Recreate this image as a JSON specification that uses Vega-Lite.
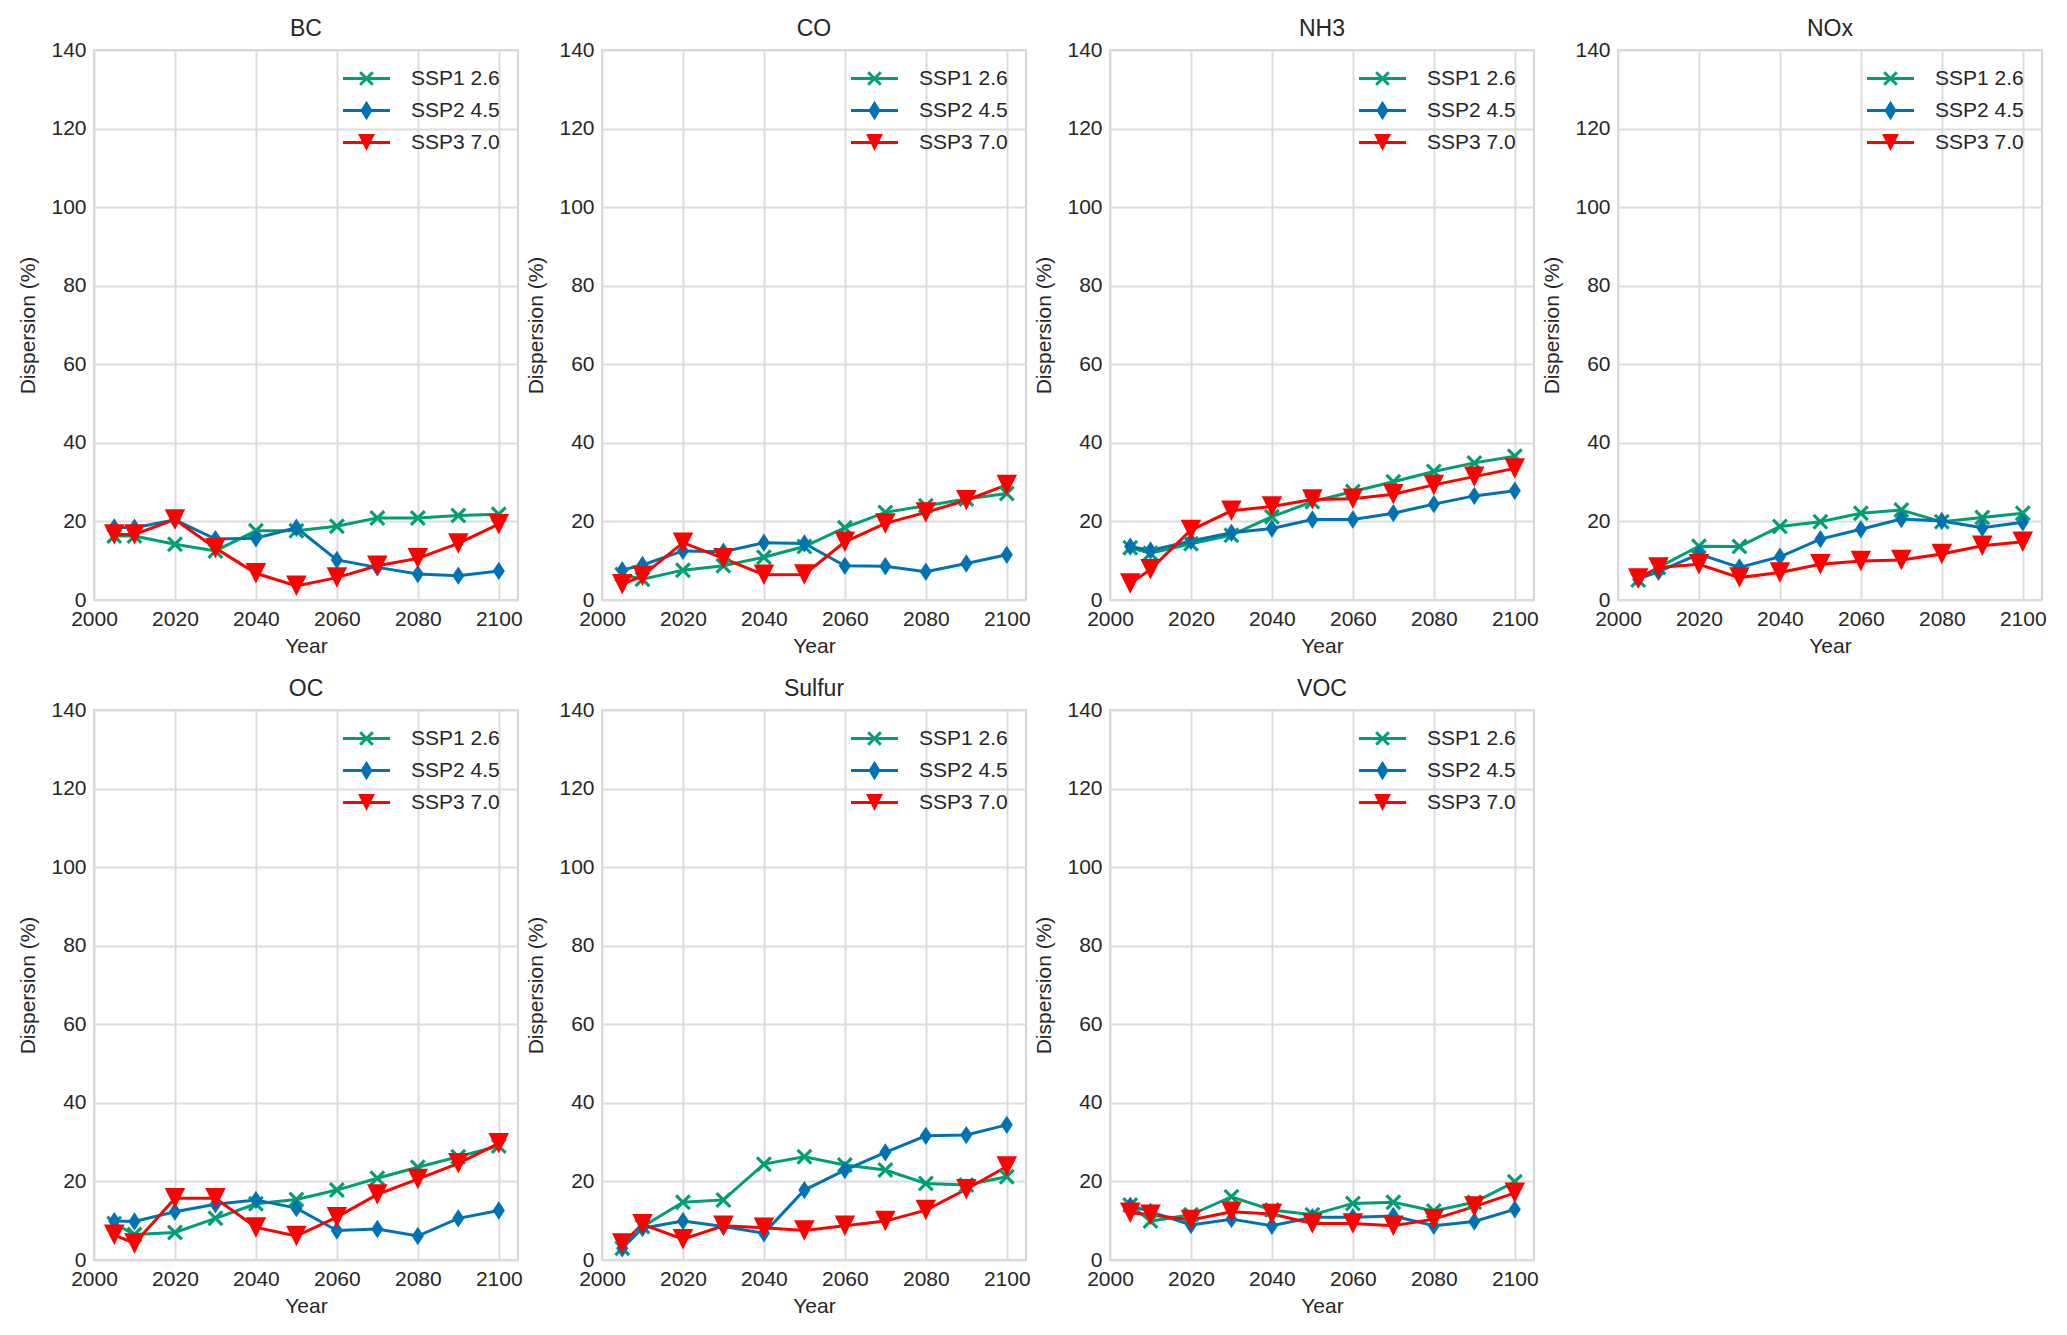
{
"$schema": "https://vega.github.io/schema/vega-lite/v6.json",
"background": "white",
"padding": {"left": 16, "top": 17, "right": 10, "bottom": 10},
"data": {"values": [
{"species":"BC","year":2005,"scenario":"SSP1 2.6","value":16.3},{"species":"BC","year":2010,"scenario":"SSP1 2.6","value":16.3},{"species":"BC","year":2020,"scenario":"SSP1 2.6","value":14.2},{"species":"BC","year":2030,"scenario":"SSP1 2.6","value":12.5},{"species":"BC","year":2040,"scenario":"SSP1 2.6","value":17.6},{"species":"BC","year":2050,"scenario":"SSP1 2.6","value":17.6},{"species":"BC","year":2060,"scenario":"SSP1 2.6","value":18.8},{"species":"BC","year":2070,"scenario":"SSP1 2.6","value":20.9},{"species":"BC","year":2080,"scenario":"SSP1 2.6","value":20.9},{"species":"BC","year":2090,"scenario":"SSP1 2.6","value":21.5},{"species":"BC","year":2100,"scenario":"SSP1 2.6","value":21.8},
{"species":"BC","year":2005,"scenario":"SSP2 4.5","value":18.5},{"species":"BC","year":2010,"scenario":"SSP2 4.5","value":18.4},{"species":"BC","year":2020,"scenario":"SSP2 4.5","value":20.4},{"species":"BC","year":2030,"scenario":"SSP2 4.5","value":15.5},{"species":"BC","year":2040,"scenario":"SSP2 4.5","value":15.7},{"species":"BC","year":2050,"scenario":"SSP2 4.5","value":18.4},{"species":"BC","year":2060,"scenario":"SSP2 4.5","value":10.2},{"species":"BC","year":2070,"scenario":"SSP2 4.5","value":8.3},{"species":"BC","year":2080,"scenario":"SSP2 4.5","value":6.6},{"species":"BC","year":2090,"scenario":"SSP2 4.5","value":6.2},{"species":"BC","year":2100,"scenario":"SSP2 4.5","value":7.4},
{"species":"BC","year":2005,"scenario":"SSP3 7.0","value":16.7},{"species":"BC","year":2010,"scenario":"SSP3 7.0","value":16.7},{"species":"BC","year":2020,"scenario":"SSP3 7.0","value":20.5},{"species":"BC","year":2030,"scenario":"SSP3 7.0","value":13.2},{"species":"BC","year":2040,"scenario":"SSP3 7.0","value":6.8},{"species":"BC","year":2050,"scenario":"SSP3 7.0","value":3.6},{"species":"BC","year":2060,"scenario":"SSP3 7.0","value":5.7},{"species":"BC","year":2070,"scenario":"SSP3 7.0","value":8.7},{"species":"BC","year":2080,"scenario":"SSP3 7.0","value":10.6},{"species":"BC","year":2090,"scenario":"SSP3 7.0","value":14.4},{"species":"BC","year":2100,"scenario":"SSP3 7.0","value":19.3},
{"species":"CO","year":2005,"scenario":"SSP1 2.6","value":6.5},{"species":"CO","year":2010,"scenario":"SSP1 2.6","value":5.3},{"species":"CO","year":2020,"scenario":"SSP1 2.6","value":7.6},{"species":"CO","year":2030,"scenario":"SSP1 2.6","value":8.7},{"species":"CO","year":2040,"scenario":"SSP1 2.6","value":10.9},{"species":"CO","year":2050,"scenario":"SSP1 2.6","value":13.6},{"species":"CO","year":2060,"scenario":"SSP1 2.6","value":18.4},{"species":"CO","year":2070,"scenario":"SSP1 2.6","value":22.3},{"species":"CO","year":2080,"scenario":"SSP1 2.6","value":24.0},{"species":"CO","year":2090,"scenario":"SSP1 2.6","value":25.7},{"species":"CO","year":2100,"scenario":"SSP1 2.6","value":27.1},
{"species":"CO","year":2005,"scenario":"SSP2 4.5","value":7.6},{"species":"CO","year":2010,"scenario":"SSP2 4.5","value":8.9},{"species":"CO","year":2020,"scenario":"SSP2 4.5","value":12.5},{"species":"CO","year":2030,"scenario":"SSP2 4.5","value":12.3},{"species":"CO","year":2040,"scenario":"SSP2 4.5","value":14.6},{"species":"CO","year":2050,"scenario":"SSP2 4.5","value":14.4},{"species":"CO","year":2060,"scenario":"SSP2 4.5","value":8.7},{"species":"CO","year":2070,"scenario":"SSP2 4.5","value":8.6},{"species":"CO","year":2080,"scenario":"SSP2 4.5","value":7.2},{"species":"CO","year":2090,"scenario":"SSP2 4.5","value":9.3},{"species":"CO","year":2100,"scenario":"SSP2 4.5","value":11.5},
{"species":"CO","year":2005,"scenario":"SSP3 7.0","value":4.0},{"species":"CO","year":2010,"scenario":"SSP3 7.0","value":6.2},{"species":"CO","year":2020,"scenario":"SSP3 7.0","value":14.6},{"species":"CO","year":2030,"scenario":"SSP3 7.0","value":10.6},{"species":"CO","year":2040,"scenario":"SSP3 7.0","value":6.4},{"species":"CO","year":2050,"scenario":"SSP3 7.0","value":6.5},{"species":"CO","year":2060,"scenario":"SSP3 7.0","value":14.8},{"species":"CO","year":2070,"scenario":"SSP3 7.0","value":19.5},{"species":"CO","year":2080,"scenario":"SSP3 7.0","value":22.3},{"species":"CO","year":2090,"scenario":"SSP3 7.0","value":25.4},{"species":"CO","year":2100,"scenario":"SSP3 7.0","value":29.3},
{"species":"NH3","year":2005,"scenario":"SSP1 2.6","value":13.3},{"species":"NH3","year":2010,"scenario":"SSP1 2.6","value":11.9},{"species":"NH3","year":2020,"scenario":"SSP1 2.6","value":14.3},{"species":"NH3","year":2030,"scenario":"SSP1 2.6","value":16.5},{"species":"NH3","year":2040,"scenario":"SSP1 2.6","value":21.2},{"species":"NH3","year":2050,"scenario":"SSP1 2.6","value":25.0},{"species":"NH3","year":2060,"scenario":"SSP1 2.6","value":27.6},{"species":"NH3","year":2070,"scenario":"SSP1 2.6","value":30.1},{"species":"NH3","year":2080,"scenario":"SSP1 2.6","value":32.7},{"species":"NH3","year":2090,"scenario":"SSP1 2.6","value":34.9},{"species":"NH3","year":2100,"scenario":"SSP1 2.6","value":36.6},
{"species":"NH3","year":2005,"scenario":"SSP2 4.5","value":13.6},{"species":"NH3","year":2010,"scenario":"SSP2 4.5","value":12.6},{"species":"NH3","year":2020,"scenario":"SSP2 4.5","value":15.0},{"species":"NH3","year":2030,"scenario":"SSP2 4.5","value":17.1},{"species":"NH3","year":2040,"scenario":"SSP2 4.5","value":18.2},{"species":"NH3","year":2050,"scenario":"SSP2 4.5","value":20.5},{"species":"NH3","year":2060,"scenario":"SSP2 4.5","value":20.5},{"species":"NH3","year":2070,"scenario":"SSP2 4.5","value":22.1},{"species":"NH3","year":2080,"scenario":"SSP2 4.5","value":24.4},{"species":"NH3","year":2090,"scenario":"SSP2 4.5","value":26.5},{"species":"NH3","year":2100,"scenario":"SSP2 4.5","value":27.8},
{"species":"NH3","year":2005,"scenario":"SSP3 7.0","value":4.2},{"species":"NH3","year":2010,"scenario":"SSP3 7.0","value":7.8},{"species":"NH3","year":2020,"scenario":"SSP3 7.0","value":17.8},{"species":"NH3","year":2030,"scenario":"SSP3 7.0","value":22.7},{"species":"NH3","year":2040,"scenario":"SSP3 7.0","value":23.8},{"species":"NH3","year":2050,"scenario":"SSP3 7.0","value":25.6},{"species":"NH3","year":2060,"scenario":"SSP3 7.0","value":25.8},{"species":"NH3","year":2070,"scenario":"SSP3 7.0","value":26.9},{"species":"NH3","year":2080,"scenario":"SSP3 7.0","value":29.3},{"species":"NH3","year":2090,"scenario":"SSP3 7.0","value":31.4},{"species":"NH3","year":2100,"scenario":"SSP3 7.0","value":33.5},
{"species":"NOx","year":2005,"scenario":"SSP1 2.6","value":5.1},{"species":"NOx","year":2010,"scenario":"SSP1 2.6","value":8.3},{"species":"NOx","year":2020,"scenario":"SSP1 2.6","value":13.7},{"species":"NOx","year":2030,"scenario":"SSP1 2.6","value":13.6},{"species":"NOx","year":2040,"scenario":"SSP1 2.6","value":18.7},{"species":"NOx","year":2050,"scenario":"SSP1 2.6","value":19.9},{"species":"NOx","year":2060,"scenario":"SSP1 2.6","value":22.1},{"species":"NOx","year":2070,"scenario":"SSP1 2.6","value":22.9},{"species":"NOx","year":2080,"scenario":"SSP1 2.6","value":19.9},{"species":"NOx","year":2090,"scenario":"SSP1 2.6","value":21.0},{"species":"NOx","year":2100,"scenario":"SSP1 2.6","value":22.1},
{"species":"NOx","year":2005,"scenario":"SSP2 4.5","value":5.3},{"species":"NOx","year":2010,"scenario":"SSP2 4.5","value":7.2},{"species":"NOx","year":2020,"scenario":"SSP2 4.5","value":11.7},{"species":"NOx","year":2030,"scenario":"SSP2 4.5","value":8.3},{"species":"NOx","year":2040,"scenario":"SSP2 4.5","value":11.0},{"species":"NOx","year":2050,"scenario":"SSP2 4.5","value":15.5},{"species":"NOx","year":2060,"scenario":"SSP2 4.5","value":18.0},{"species":"NOx","year":2070,"scenario":"SSP2 4.5","value":20.6},{"species":"NOx","year":2080,"scenario":"SSP2 4.5","value":20.1},{"species":"NOx","year":2090,"scenario":"SSP2 4.5","value":18.4},{"species":"NOx","year":2100,"scenario":"SSP2 4.5","value":19.8},
{"species":"NOx","year":2005,"scenario":"SSP3 7.0","value":5.5},{"species":"NOx","year":2010,"scenario":"SSP3 7.0","value":8.3},{"species":"NOx","year":2020,"scenario":"SSP3 7.0","value":9.1},{"species":"NOx","year":2030,"scenario":"SSP3 7.0","value":5.7},{"species":"NOx","year":2040,"scenario":"SSP3 7.0","value":7.0},{"species":"NOx","year":2050,"scenario":"SSP3 7.0","value":9.1},{"species":"NOx","year":2060,"scenario":"SSP3 7.0","value":9.9},{"species":"NOx","year":2070,"scenario":"SSP3 7.0","value":10.2},{"species":"NOx","year":2080,"scenario":"SSP3 7.0","value":11.7},{"species":"NOx","year":2090,"scenario":"SSP3 7.0","value":13.8},{"species":"NOx","year":2100,"scenario":"SSP3 7.0","value":14.8},
{"species":"OC","year":2005,"scenario":"SSP1 2.6","value":9.3},{"species":"OC","year":2010,"scenario":"SSP1 2.6","value":6.5},{"species":"OC","year":2020,"scenario":"SSP1 2.6","value":7.0},{"species":"OC","year":2030,"scenario":"SSP1 2.6","value":10.6},{"species":"OC","year":2040,"scenario":"SSP1 2.6","value":14.3},{"species":"OC","year":2050,"scenario":"SSP1 2.6","value":15.4},{"species":"OC","year":2060,"scenario":"SSP1 2.6","value":17.8},{"species":"OC","year":2070,"scenario":"SSP1 2.6","value":20.8},{"species":"OC","year":2080,"scenario":"SSP1 2.6","value":23.6},{"species":"OC","year":2090,"scenario":"SSP1 2.6","value":26.3},{"species":"OC","year":2100,"scenario":"SSP1 2.6","value":29.0},
{"species":"OC","year":2005,"scenario":"SSP2 4.5","value":9.9},{"species":"OC","year":2010,"scenario":"SSP2 4.5","value":9.8},{"species":"OC","year":2020,"scenario":"SSP2 4.5","value":12.3},{"species":"OC","year":2030,"scenario":"SSP2 4.5","value":14.2},{"species":"OC","year":2040,"scenario":"SSP2 4.5","value":15.3},{"species":"OC","year":2050,"scenario":"SSP2 4.5","value":13.2},{"species":"OC","year":2060,"scenario":"SSP2 4.5","value":7.5},{"species":"OC","year":2070,"scenario":"SSP2 4.5","value":7.9},{"species":"OC","year":2080,"scenario":"SSP2 4.5","value":6.1},{"species":"OC","year":2090,"scenario":"SSP2 4.5","value":10.6},{"species":"OC","year":2100,"scenario":"SSP2 4.5","value":12.6},
{"species":"OC","year":2005,"scenario":"SSP3 7.0","value":6.4},{"species":"OC","year":2010,"scenario":"SSP3 7.0","value":4.2},{"species":"OC","year":2020,"scenario":"SSP3 7.0","value":15.7},{"species":"OC","year":2030,"scenario":"SSP3 7.0","value":15.7},{"species":"OC","year":2040,"scenario":"SSP3 7.0","value":8.3},{"species":"OC","year":2050,"scenario":"SSP3 7.0","value":6.1},{"species":"OC","year":2060,"scenario":"SSP3 7.0","value":10.9},{"species":"OC","year":2070,"scenario":"SSP3 7.0","value":16.7},{"species":"OC","year":2080,"scenario":"SSP3 7.0","value":20.6},{"species":"OC","year":2090,"scenario":"SSP3 7.0","value":24.6},{"species":"OC","year":2100,"scenario":"SSP3 7.0","value":29.7},
{"species":"Sulfur","year":2005,"scenario":"SSP1 2.6","value":3.0},{"species":"Sulfur","year":2010,"scenario":"SSP1 2.6","value":8.5},{"species":"Sulfur","year":2020,"scenario":"SSP1 2.6","value":14.7},{"species":"Sulfur","year":2030,"scenario":"SSP1 2.6","value":15.3},{"species":"Sulfur","year":2040,"scenario":"SSP1 2.6","value":24.4},{"species":"Sulfur","year":2050,"scenario":"SSP1 2.6","value":26.3},{"species":"Sulfur","year":2060,"scenario":"SSP1 2.6","value":24.2},{"species":"Sulfur","year":2070,"scenario":"SSP1 2.6","value":22.9},{"species":"Sulfur","year":2080,"scenario":"SSP1 2.6","value":19.5},{"species":"Sulfur","year":2090,"scenario":"SSP1 2.6","value":19.1},{"species":"Sulfur","year":2100,"scenario":"SSP1 2.6","value":21.2},
{"species":"Sulfur","year":2005,"scenario":"SSP2 4.5","value":3.0},{"species":"Sulfur","year":2010,"scenario":"SSP2 4.5","value":8.1},{"species":"Sulfur","year":2020,"scenario":"SSP2 4.5","value":9.9},{"species":"Sulfur","year":2030,"scenario":"SSP2 4.5","value":8.5},{"species":"Sulfur","year":2040,"scenario":"SSP2 4.5","value":6.8},{"species":"Sulfur","year":2050,"scenario":"SSP2 4.5","value":17.8},{"species":"Sulfur","year":2060,"scenario":"SSP2 4.5","value":22.9},{"species":"Sulfur","year":2070,"scenario":"SSP2 4.5","value":27.4},{"species":"Sulfur","year":2080,"scenario":"SSP2 4.5","value":31.6},{"species":"Sulfur","year":2090,"scenario":"SSP2 4.5","value":31.8},{"species":"Sulfur","year":2100,"scenario":"SSP2 4.5","value":34.4},
{"species":"Sulfur","year":2005,"scenario":"SSP3 7.0","value":4.2},{"species":"Sulfur","year":2010,"scenario":"SSP3 7.0","value":9.1},{"species":"Sulfur","year":2020,"scenario":"SSP3 7.0","value":5.3},{"species":"Sulfur","year":2030,"scenario":"SSP3 7.0","value":8.7},{"species":"Sulfur","year":2040,"scenario":"SSP3 7.0","value":8.2},{"species":"Sulfur","year":2050,"scenario":"SSP3 7.0","value":7.5},{"species":"Sulfur","year":2060,"scenario":"SSP3 7.0","value":8.7},{"species":"Sulfur","year":2070,"scenario":"SSP3 7.0","value":9.9},{"species":"Sulfur","year":2080,"scenario":"SSP3 7.0","value":12.7},{"species":"Sulfur","year":2090,"scenario":"SSP3 7.0","value":18.0},{"species":"Sulfur","year":2100,"scenario":"SSP3 7.0","value":23.8},
{"species":"VOC","year":2005,"scenario":"SSP1 2.6","value":14.0},{"species":"VOC","year":2010,"scenario":"SSP1 2.6","value":9.9},{"species":"VOC","year":2020,"scenario":"SSP1 2.6","value":11.5},{"species":"VOC","year":2030,"scenario":"SSP1 2.6","value":16.1},{"species":"VOC","year":2040,"scenario":"SSP1 2.6","value":12.7},{"species":"VOC","year":2050,"scenario":"SSP1 2.6","value":11.5},{"species":"VOC","year":2060,"scenario":"SSP1 2.6","value":14.4},{"species":"VOC","year":2070,"scenario":"SSP1 2.6","value":14.7},{"species":"VOC","year":2080,"scenario":"SSP1 2.6","value":12.5},{"species":"VOC","year":2090,"scenario":"SSP1 2.6","value":14.7},{"species":"VOC","year":2100,"scenario":"SSP1 2.6","value":19.9},
{"species":"VOC","year":2005,"scenario":"SSP2 4.5","value":13.8},{"species":"VOC","year":2010,"scenario":"SSP2 4.5","value":12.3},{"species":"VOC","year":2020,"scenario":"SSP2 4.5","value":8.9},{"species":"VOC","year":2030,"scenario":"SSP2 4.5","value":10.4},{"species":"VOC","year":2040,"scenario":"SSP2 4.5","value":8.7},{"species":"VOC","year":2050,"scenario":"SSP2 4.5","value":10.9},{"species":"VOC","year":2060,"scenario":"SSP2 4.5","value":10.9},{"species":"VOC","year":2070,"scenario":"SSP2 4.5","value":11.2},{"species":"VOC","year":2080,"scenario":"SSP2 4.5","value":8.7},{"species":"VOC","year":2090,"scenario":"SSP2 4.5","value":9.8},{"species":"VOC","year":2100,"scenario":"SSP2 4.5","value":12.9},
{"species":"VOC","year":2005,"scenario":"SSP3 7.0","value":12.0},{"species":"VOC","year":2010,"scenario":"SSP3 7.0","value":11.5},{"species":"VOC","year":2020,"scenario":"SSP3 7.0","value":10.2},{"species":"VOC","year":2030,"scenario":"SSP3 7.0","value":12.3},{"species":"VOC","year":2040,"scenario":"SSP3 7.0","value":11.7},{"species":"VOC","year":2050,"scenario":"SSP3 7.0","value":9.3},{"species":"VOC","year":2060,"scenario":"SSP3 7.0","value":9.3},{"species":"VOC","year":2070,"scenario":"SSP3 7.0","value":8.7},{"species":"VOC","year":2080,"scenario":"SSP3 7.0","value":10.4},{"species":"VOC","year":2090,"scenario":"SSP3 7.0","value":13.6},{"species":"VOC","year":2100,"scenario":"SSP3 7.0","value":17.1}
]},
"columns": 4,
"spacing": {"row": 110, "column": 84},
"bounds": "flush",
"concat": [
{"title": "BC","width": 424,"height": 550,"transform": [{"filter": {"field": "species","equal": "BC"}}],
 "encoding": {"x": {"field": "year","type": "quantitative","scale": {"domain": [2000,2104.75],"nice": false,"zero": false},"axis": {"values": [2000,2020,2040,2060,2080,2100],"title": "Year","format": "d"}},
  "y": {"field": "value","type": "quantitative","scale": {"domain": [0,140],"nice": false},"axis": {"values": [0,20,40,60,80,100,120,140],"title": "Dispersion (%)","format": "d"}},
  "color": {"field": "scenario","type": "nominal","scale": {"domain": ["SSP1 2.6","SSP2 4.5","SSP3 7.0"],"range": ["#009E73","#0072B2","#FF0000"]},
   "legend": {"encode": {"symbols": {"update": {"shape": {"signal": "datum.value === 'SSP1 2.6' ? 'M-3.36,-0.21L3.36,-0.21L3.36,0.21L-3.36,0.21ZM-1.05,-0.75L-0.75,-1.05L0,-0.3L0.75,-1.05L1.05,-0.75L0.3,0L1.05,0.75L0.75,1.05L0,0.3L-0.75,1.05L-1.05,0.75L-0.3,0Z' : datum.value === 'SSP2 4.5' ? 'M-3.36,-0.21L3.36,-0.21L3.36,0.21L-3.36,0.21ZM0,-1.38L0.86,0L0,1.38L-0.86,0Z' : 'M-3.36,-0.21L3.36,-0.21L3.36,0.21L-3.36,0.21ZM-1.2,-1.2L1.2,-1.2L0,1.2Z'"},"fill": {"signal": "datum.value === 'SSP1 2.6' ? '#009E73' : datum.value === 'SSP2 4.5' ? '#0072B2' : '#FF0000'"},"stroke": {"value": "transparent"},"strokeWidth": {"value": 0},"opacity": {"value": 1},"size": {"value": 196}}}}}}},
 "layer": [{"mark": {"type": "line","strokeWidth": 3}},
  {"mark": {"type": "point","filled": true,"opacity": 1},"encoding": {"shape": {"field": "scenario","type": "nominal","scale": {"domain": ["SSP1 2.6","SSP2 4.5","SSP3 7.0"],"range": ["M-1,-0.72L-0.72,-1L0,-0.28L0.72,-1L1,-0.72L0.28,0L1,0.72L0.72,1L0,0.28L-0.72,1L-1,0.72L-0.28,0Z","M0,-1L0.66,0L0,1L-0.66,0Z","M-1,-1L1,-1L0,1Z"]},"legend": null},"size": {"field": "scenario","type": "nominal","scale": {"domain": ["SSP1 2.6","SSP2 4.5","SSP3 7.0"],"range": [256,420,300]},"legend": null}}}]},
{"title": "CO","width": 424,"height": 550,"transform": [{"filter": {"field": "species","equal": "CO"}}],
 "encoding": {"x": {"field": "year","type": "quantitative","scale": {"domain": [2000,2104.75],"nice": false,"zero": false},"axis": {"values": [2000,2020,2040,2060,2080,2100],"title": "Year","format": "d"}},
  "y": {"field": "value","type": "quantitative","scale": {"domain": [0,140],"nice": false},"axis": {"values": [0,20,40,60,80,100,120,140],"title": "Dispersion (%)","format": "d"}},
  "color": {"field": "scenario","type": "nominal","scale": {"domain": ["SSP1 2.6","SSP2 4.5","SSP3 7.0"],"range": ["#009E73","#0072B2","#FF0000"]},
   "legend": {"encode": {"symbols": {"update": {"shape": {"signal": "datum.value === 'SSP1 2.6' ? 'M-3.36,-0.21L3.36,-0.21L3.36,0.21L-3.36,0.21ZM-1.05,-0.75L-0.75,-1.05L0,-0.3L0.75,-1.05L1.05,-0.75L0.3,0L1.05,0.75L0.75,1.05L0,0.3L-0.75,1.05L-1.05,0.75L-0.3,0Z' : datum.value === 'SSP2 4.5' ? 'M-3.36,-0.21L3.36,-0.21L3.36,0.21L-3.36,0.21ZM0,-1.38L0.86,0L0,1.38L-0.86,0Z' : 'M-3.36,-0.21L3.36,-0.21L3.36,0.21L-3.36,0.21ZM-1.2,-1.2L1.2,-1.2L0,1.2Z'"},"fill": {"signal": "datum.value === 'SSP1 2.6' ? '#009E73' : datum.value === 'SSP2 4.5' ? '#0072B2' : '#FF0000'"},"stroke": {"value": "transparent"},"strokeWidth": {"value": 0},"opacity": {"value": 1},"size": {"value": 196}}}}}}},
 "layer": [{"mark": {"type": "line","strokeWidth": 3}},
  {"mark": {"type": "point","filled": true,"opacity": 1},"encoding": {"shape": {"field": "scenario","type": "nominal","scale": {"domain": ["SSP1 2.6","SSP2 4.5","SSP3 7.0"],"range": ["M-1,-0.72L-0.72,-1L0,-0.28L0.72,-1L1,-0.72L0.28,0L1,0.72L0.72,1L0,0.28L-0.72,1L-1,0.72L-0.28,0Z","M0,-1L0.66,0L0,1L-0.66,0Z","M-1,-1L1,-1L0,1Z"]},"legend": null},"size": {"field": "scenario","type": "nominal","scale": {"domain": ["SSP1 2.6","SSP2 4.5","SSP3 7.0"],"range": [256,420,300]},"legend": null}}}]},
{"title": "NH3","width": 424,"height": 550,"transform": [{"filter": {"field": "species","equal": "NH3"}}],
 "encoding": {"x": {"field": "year","type": "quantitative","scale": {"domain": [2000,2104.75],"nice": false,"zero": false},"axis": {"values": [2000,2020,2040,2060,2080,2100],"title": "Year","format": "d"}},
  "y": {"field": "value","type": "quantitative","scale": {"domain": [0,140],"nice": false},"axis": {"values": [0,20,40,60,80,100,120,140],"title": "Dispersion (%)","format": "d"}},
  "color": {"field": "scenario","type": "nominal","scale": {"domain": ["SSP1 2.6","SSP2 4.5","SSP3 7.0"],"range": ["#009E73","#0072B2","#FF0000"]},
   "legend": {"encode": {"symbols": {"update": {"shape": {"signal": "datum.value === 'SSP1 2.6' ? 'M-3.36,-0.21L3.36,-0.21L3.36,0.21L-3.36,0.21ZM-1.05,-0.75L-0.75,-1.05L0,-0.3L0.75,-1.05L1.05,-0.75L0.3,0L1.05,0.75L0.75,1.05L0,0.3L-0.75,1.05L-1.05,0.75L-0.3,0Z' : datum.value === 'SSP2 4.5' ? 'M-3.36,-0.21L3.36,-0.21L3.36,0.21L-3.36,0.21ZM0,-1.38L0.86,0L0,1.38L-0.86,0Z' : 'M-3.36,-0.21L3.36,-0.21L3.36,0.21L-3.36,0.21ZM-1.2,-1.2L1.2,-1.2L0,1.2Z'"},"fill": {"signal": "datum.value === 'SSP1 2.6' ? '#009E73' : datum.value === 'SSP2 4.5' ? '#0072B2' : '#FF0000'"},"stroke": {"value": "transparent"},"strokeWidth": {"value": 0},"opacity": {"value": 1},"size": {"value": 196}}}}}}},
 "layer": [{"mark": {"type": "line","strokeWidth": 3}},
  {"mark": {"type": "point","filled": true,"opacity": 1},"encoding": {"shape": {"field": "scenario","type": "nominal","scale": {"domain": ["SSP1 2.6","SSP2 4.5","SSP3 7.0"],"range": ["M-1,-0.72L-0.72,-1L0,-0.28L0.72,-1L1,-0.72L0.28,0L1,0.72L0.72,1L0,0.28L-0.72,1L-1,0.72L-0.28,0Z","M0,-1L0.66,0L0,1L-0.66,0Z","M-1,-1L1,-1L0,1Z"]},"legend": null},"size": {"field": "scenario","type": "nominal","scale": {"domain": ["SSP1 2.6","SSP2 4.5","SSP3 7.0"],"range": [256,420,300]},"legend": null}}}]},
{"title": "NOx","width": 424,"height": 550,"transform": [{"filter": {"field": "species","equal": "NOx"}}],
 "encoding": {"x": {"field": "year","type": "quantitative","scale": {"domain": [2000,2104.75],"nice": false,"zero": false},"axis": {"values": [2000,2020,2040,2060,2080,2100],"title": "Year","format": "d"}},
  "y": {"field": "value","type": "quantitative","scale": {"domain": [0,140],"nice": false},"axis": {"values": [0,20,40,60,80,100,120,140],"title": "Dispersion (%)","format": "d"}},
  "color": {"field": "scenario","type": "nominal","scale": {"domain": ["SSP1 2.6","SSP2 4.5","SSP3 7.0"],"range": ["#009E73","#0072B2","#FF0000"]},
   "legend": {"encode": {"symbols": {"update": {"shape": {"signal": "datum.value === 'SSP1 2.6' ? 'M-3.36,-0.21L3.36,-0.21L3.36,0.21L-3.36,0.21ZM-1.05,-0.75L-0.75,-1.05L0,-0.3L0.75,-1.05L1.05,-0.75L0.3,0L1.05,0.75L0.75,1.05L0,0.3L-0.75,1.05L-1.05,0.75L-0.3,0Z' : datum.value === 'SSP2 4.5' ? 'M-3.36,-0.21L3.36,-0.21L3.36,0.21L-3.36,0.21ZM0,-1.38L0.86,0L0,1.38L-0.86,0Z' : 'M-3.36,-0.21L3.36,-0.21L3.36,0.21L-3.36,0.21ZM-1.2,-1.2L1.2,-1.2L0,1.2Z'"},"fill": {"signal": "datum.value === 'SSP1 2.6' ? '#009E73' : datum.value === 'SSP2 4.5' ? '#0072B2' : '#FF0000'"},"stroke": {"value": "transparent"},"strokeWidth": {"value": 0},"opacity": {"value": 1},"size": {"value": 196}}}}}}},
 "layer": [{"mark": {"type": "line","strokeWidth": 3}},
  {"mark": {"type": "point","filled": true,"opacity": 1},"encoding": {"shape": {"field": "scenario","type": "nominal","scale": {"domain": ["SSP1 2.6","SSP2 4.5","SSP3 7.0"],"range": ["M-1,-0.72L-0.72,-1L0,-0.28L0.72,-1L1,-0.72L0.28,0L1,0.72L0.72,1L0,0.28L-0.72,1L-1,0.72L-0.28,0Z","M0,-1L0.66,0L0,1L-0.66,0Z","M-1,-1L1,-1L0,1Z"]},"legend": null},"size": {"field": "scenario","type": "nominal","scale": {"domain": ["SSP1 2.6","SSP2 4.5","SSP3 7.0"],"range": [256,420,300]},"legend": null}}}]},
{"title": "OC","width": 424,"height": 550,"transform": [{"filter": {"field": "species","equal": "OC"}}],
 "encoding": {"x": {"field": "year","type": "quantitative","scale": {"domain": [2000,2104.75],"nice": false,"zero": false},"axis": {"values": [2000,2020,2040,2060,2080,2100],"title": "Year","format": "d"}},
  "y": {"field": "value","type": "quantitative","scale": {"domain": [0,140],"nice": false},"axis": {"values": [0,20,40,60,80,100,120,140],"title": "Dispersion (%)","format": "d"}},
  "color": {"field": "scenario","type": "nominal","scale": {"domain": ["SSP1 2.6","SSP2 4.5","SSP3 7.0"],"range": ["#009E73","#0072B2","#FF0000"]},
   "legend": {"encode": {"symbols": {"update": {"shape": {"signal": "datum.value === 'SSP1 2.6' ? 'M-3.36,-0.21L3.36,-0.21L3.36,0.21L-3.36,0.21ZM-1.05,-0.75L-0.75,-1.05L0,-0.3L0.75,-1.05L1.05,-0.75L0.3,0L1.05,0.75L0.75,1.05L0,0.3L-0.75,1.05L-1.05,0.75L-0.3,0Z' : datum.value === 'SSP2 4.5' ? 'M-3.36,-0.21L3.36,-0.21L3.36,0.21L-3.36,0.21ZM0,-1.38L0.86,0L0,1.38L-0.86,0Z' : 'M-3.36,-0.21L3.36,-0.21L3.36,0.21L-3.36,0.21ZM-1.2,-1.2L1.2,-1.2L0,1.2Z'"},"fill": {"signal": "datum.value === 'SSP1 2.6' ? '#009E73' : datum.value === 'SSP2 4.5' ? '#0072B2' : '#FF0000'"},"stroke": {"value": "transparent"},"strokeWidth": {"value": 0},"opacity": {"value": 1},"size": {"value": 196}}}}}}},
 "layer": [{"mark": {"type": "line","strokeWidth": 3}},
  {"mark": {"type": "point","filled": true,"opacity": 1},"encoding": {"shape": {"field": "scenario","type": "nominal","scale": {"domain": ["SSP1 2.6","SSP2 4.5","SSP3 7.0"],"range": ["M-1,-0.72L-0.72,-1L0,-0.28L0.72,-1L1,-0.72L0.28,0L1,0.72L0.72,1L0,0.28L-0.72,1L-1,0.72L-0.28,0Z","M0,-1L0.66,0L0,1L-0.66,0Z","M-1,-1L1,-1L0,1Z"]},"legend": null},"size": {"field": "scenario","type": "nominal","scale": {"domain": ["SSP1 2.6","SSP2 4.5","SSP3 7.0"],"range": [256,420,300]},"legend": null}}}]},
{"title": "Sulfur","width": 424,"height": 550,"transform": [{"filter": {"field": "species","equal": "Sulfur"}}],
 "encoding": {"x": {"field": "year","type": "quantitative","scale": {"domain": [2000,2104.75],"nice": false,"zero": false},"axis": {"values": [2000,2020,2040,2060,2080,2100],"title": "Year","format": "d"}},
  "y": {"field": "value","type": "quantitative","scale": {"domain": [0,140],"nice": false},"axis": {"values": [0,20,40,60,80,100,120,140],"title": "Dispersion (%)","format": "d"}},
  "color": {"field": "scenario","type": "nominal","scale": {"domain": ["SSP1 2.6","SSP2 4.5","SSP3 7.0"],"range": ["#009E73","#0072B2","#FF0000"]},
   "legend": {"encode": {"symbols": {"update": {"shape": {"signal": "datum.value === 'SSP1 2.6' ? 'M-3.36,-0.21L3.36,-0.21L3.36,0.21L-3.36,0.21ZM-1.05,-0.75L-0.75,-1.05L0,-0.3L0.75,-1.05L1.05,-0.75L0.3,0L1.05,0.75L0.75,1.05L0,0.3L-0.75,1.05L-1.05,0.75L-0.3,0Z' : datum.value === 'SSP2 4.5' ? 'M-3.36,-0.21L3.36,-0.21L3.36,0.21L-3.36,0.21ZM0,-1.38L0.86,0L0,1.38L-0.86,0Z' : 'M-3.36,-0.21L3.36,-0.21L3.36,0.21L-3.36,0.21ZM-1.2,-1.2L1.2,-1.2L0,1.2Z'"},"fill": {"signal": "datum.value === 'SSP1 2.6' ? '#009E73' : datum.value === 'SSP2 4.5' ? '#0072B2' : '#FF0000'"},"stroke": {"value": "transparent"},"strokeWidth": {"value": 0},"opacity": {"value": 1},"size": {"value": 196}}}}}}},
 "layer": [{"mark": {"type": "line","strokeWidth": 3}},
  {"mark": {"type": "point","filled": true,"opacity": 1},"encoding": {"shape": {"field": "scenario","type": "nominal","scale": {"domain": ["SSP1 2.6","SSP2 4.5","SSP3 7.0"],"range": ["M-1,-0.72L-0.72,-1L0,-0.28L0.72,-1L1,-0.72L0.28,0L1,0.72L0.72,1L0,0.28L-0.72,1L-1,0.72L-0.28,0Z","M0,-1L0.66,0L0,1L-0.66,0Z","M-1,-1L1,-1L0,1Z"]},"legend": null},"size": {"field": "scenario","type": "nominal","scale": {"domain": ["SSP1 2.6","SSP2 4.5","SSP3 7.0"],"range": [256,420,300]},"legend": null}}}]},
{"title": "VOC","width": 424,"height": 550,"transform": [{"filter": {"field": "species","equal": "VOC"}}],
 "encoding": {"x": {"field": "year","type": "quantitative","scale": {"domain": [2000,2104.75],"nice": false,"zero": false},"axis": {"values": [2000,2020,2040,2060,2080,2100],"title": "Year","format": "d"}},
  "y": {"field": "value","type": "quantitative","scale": {"domain": [0,140],"nice": false},"axis": {"values": [0,20,40,60,80,100,120,140],"title": "Dispersion (%)","format": "d"}},
  "color": {"field": "scenario","type": "nominal","scale": {"domain": ["SSP1 2.6","SSP2 4.5","SSP3 7.0"],"range": ["#009E73","#0072B2","#FF0000"]},
   "legend": {"encode": {"symbols": {"update": {"shape": {"signal": "datum.value === 'SSP1 2.6' ? 'M-3.36,-0.21L3.36,-0.21L3.36,0.21L-3.36,0.21ZM-1.05,-0.75L-0.75,-1.05L0,-0.3L0.75,-1.05L1.05,-0.75L0.3,0L1.05,0.75L0.75,1.05L0,0.3L-0.75,1.05L-1.05,0.75L-0.3,0Z' : datum.value === 'SSP2 4.5' ? 'M-3.36,-0.21L3.36,-0.21L3.36,0.21L-3.36,0.21ZM0,-1.38L0.86,0L0,1.38L-0.86,0Z' : 'M-3.36,-0.21L3.36,-0.21L3.36,0.21L-3.36,0.21ZM-1.2,-1.2L1.2,-1.2L0,1.2Z'"},"fill": {"signal": "datum.value === 'SSP1 2.6' ? '#009E73' : datum.value === 'SSP2 4.5' ? '#0072B2' : '#FF0000'"},"stroke": {"value": "transparent"},"strokeWidth": {"value": 0},"opacity": {"value": 1},"size": {"value": 196}}}}}}},
 "layer": [{"mark": {"type": "line","strokeWidth": 3}},
  {"mark": {"type": "point","filled": true,"opacity": 1},"encoding": {"shape": {"field": "scenario","type": "nominal","scale": {"domain": ["SSP1 2.6","SSP2 4.5","SSP3 7.0"],"range": ["M-1,-0.72L-0.72,-1L0,-0.28L0.72,-1L1,-0.72L0.28,0L1,0.72L0.72,1L0,0.28L-0.72,1L-1,0.72L-0.28,0Z","M0,-1L0.66,0L0,1L-0.66,0Z","M-1,-1L1,-1L0,1Z"]},"legend": null},"size": {"field": "scenario","type": "nominal","scale": {"domain": ["SSP1 2.6","SSP2 4.5","SSP3 7.0"],"range": [256,420,300]},"legend": null}}}]}
],
"resolve": {"legend": {"color": "independent"}},
"config": {
 "font": "Liberation Sans",
 "view": {"stroke": "#d4d4d4", "strokeWidth": 2},
 "axis": {"grid": true, "gridColor": "#dcdcdc", "gridWidth": 2, "domain": false, "ticks": false, "tickSize": 0, "labelFontSize": 21, "labelColor": "#262626", "titleFontSize": 21, "titleColor": "#262626", "titleFontWeight": "normal", "labelFlush": false, "labelPadding": 8},
 "axisX": {"titlePadding": 6},
 "axisY": {"titlePadding": 12},
 "title": {"fontSize": 23, "fontWeight": "normal", "color": "#262626", "offset": -2},
 "legend": {"title": null, "orient": "top-right", "offset": 18, "padding": 0, "labelFontSize": 21, "labelColor": "#262626", "labelOffset": 34, "rowPadding": 10, "symbolSize": 196}
}
}
